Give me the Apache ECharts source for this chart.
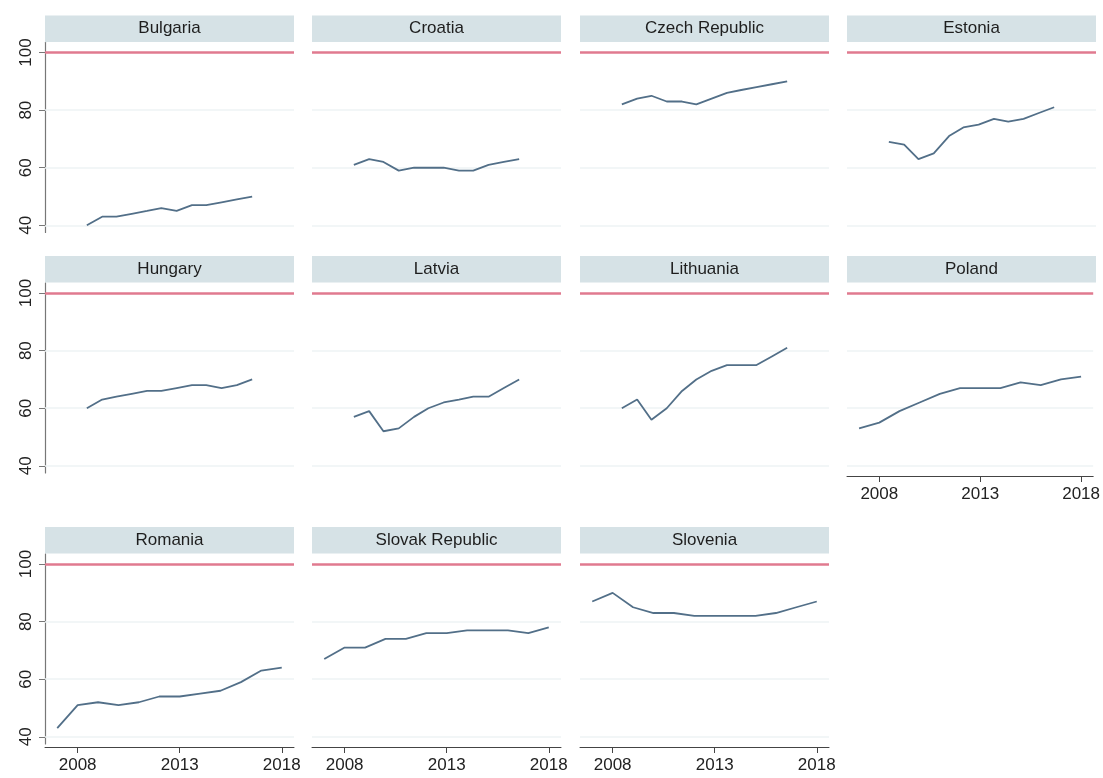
<!DOCTYPE html>
<html>
<head>
<meta charset="utf-8">
<script src="https://cdn.jsdelivr.net/npm/echarts@6/dist/echarts.min.js"></script>
<style>html,body{margin:0;padding:0;background:#fff}#c{width:1103px;height:778px}</style>
</head>
<body>
<div id="c"></div>
<script>
// ---- data ----
const yearsShort = [2008.45, 2009.2, 2009.9, 2010.65, 2011.4, 2012.1, 2012.85, 2013.6, 2014.3, 2015.05, 2015.8, 2016.55];
const yearsFull = [2007, 2008, 2009, 2010, 2011, 2012, 2013, 2014, 2015, 2016, 2017, 2018];
const xTickLabels = [2008, 2013, 2018];
const yTickLabels = [40, 60, 80, 100];
const referenceLevel = 100;

const bulgaria = [40, 43, 43, 44, 45, 46, 45, 47, 47, 48, 49, 50];
const croatia = [61, 63, 62, 59, 60, 60, 60, 59, 59, 61, 62, 63];
const czechRepublic = [82, 84, 85, 83, 83, 82, 84, 86, 87, 88, 89, 90];
const estonia = [69, 68, 63, 65, 71, 74, 75, 77, 76, 77, 79, 81];
const hungary = [60, 63, 64, 65, 66, 66, 67, 68, 68, 67, 68, 70];
const latvia = [57, 59, 52, 53, 57, 60, 62, 63, 64, 64, 67, 70];
const lithuania = [60, 63, 56, 60, 66, 70, 73, 75, 75, 75, 78, 81];
const poland = [53, 55, 59, 62, 65, 67, 67, 67, 69, 68, 70, 71];
const romania = [43, 51, 52, 51, 52, 54, 54, 55, 56, 59, 63, 64];
const slovakRepublic = [67, 71, 71, 74, 74, 76, 76, 77, 77, 77, 76, 78];
const slovenia = [87, 90, 85, 83, 83, 82, 82, 82, 82, 83, 85, 87];

const panels = [
  {name: 'Bulgaria', x: yearsShort, v: bulgaria, row: 0, col: 0, showX: false},
  {name: 'Croatia', x: yearsShort, v: croatia, row: 0, col: 1, showX: false},
  {name: 'Czech Republic', x: yearsShort, v: czechRepublic, row: 0, col: 2, showX: false},
  {name: 'Estonia', x: yearsShort, v: estonia, row: 0, col: 3, showX: false},
  {name: 'Hungary', x: yearsShort, v: hungary, row: 1, col: 0, showX: false},
  {name: 'Latvia', x: yearsShort, v: latvia, row: 1, col: 1, showX: false},
  {name: 'Lithuania', x: yearsShort, v: lithuania, row: 1, col: 2, showX: false},
  {name: 'Poland', x: yearsFull, v: poland, row: 1, col: 3, showX: true},
  {name: 'Romania', x: yearsFull, v: romania, row: 2, col: 0, showX: true},
  {name: 'Slovak Republic', x: yearsFull, v: slovakRepublic, row: 2, col: 1, showX: true},
  {name: 'Slovenia', x: yearsFull, v: slovenia, row: 2, col: 2, showX: true}
];

// ---- layout ----
const colLeft = [45, 312, 580, 847];
const rowTop = [42.5, 283, 554];
const W = 249, H = 190;
const HEAD_H = 26.5;
const FONT = '"Liberation Sans", Arial, Helvetica, sans-serif';

const grid = [], xAxis = [], yAxis = [], series = [], graphic = [];
panels.forEach((p, i) => {
  const left = colLeft[p.col], top = rowTop[p.row];
  grid.push({left: left, top: top, width: W, height: H, containLabel: false});
  xAxis.push({
    type: 'value', gridIndex: i, min: 2006.4, max: 2018.6,
    show: p.showX, offset: 3,
    splitLine: {show: false},
    axisLine: {show: true, lineStyle: {color: '#444', width: 1}},
    axisTick: {show: true, length: 6, lineStyle: {color: '#444'}, customValues: xTickLabels},
    axisLabel: {show: true, customValues: xTickLabels, color: '#222', fontSize: 17, fontFamily: FONT, margin: 10,
      formatter: v => String(v)}
  });
  yAxis.push({
    type: 'value', gridIndex: i, min: 37.5, max: 103.5,
    show: p.col === 0,
    splitLine: {show: false},
    axisLine: {show: true, lineStyle: {color: '#777', width: 1.2}},
    axisTick: {show: true, length: 6, lineStyle: {color: '#777'}, customValues: yTickLabels},
    axisLabel: {show: true, customValues: yTickLabels, rotate: 90, color: '#222', fontSize: 17, fontFamily: FONT, margin: 10,
      formatter: v => String(v)}
  });
  series.push({
    type: 'line', xAxisIndex: i, yAxisIndex: i, z: 1,
    data: [], silent: true,
    markLine: {
      silent: true, symbol: 'none', animation: false, z: 1,
      label: {show: false},
      data: yTickLabels.filter(t => t !== referenceLevel).map(t => ({yAxis: t, lineStyle: {color: '#eef3f5', width: 1.5, type: 'solid'}}))
        .concat([{yAxis: referenceLevel, lineStyle: {color: '#e07a8f', width: 2.6, type: 'solid'}}])
    }
  });
  series.push({
    type: 'line', xAxisIndex: i, yAxisIndex: i, z: 10,
    data: p.x.map((x, k) => [x, p.v[k]]),
    symbol: 'none', silent: true,
    lineStyle: {color: '#526f88', width: 1.8},
    name: p.name
  });
  graphic.push({
    type: 'rect', silent: true,
    shape: {x: left, y: top - HEAD_H - 0.5, width: W, height: HEAD_H},
    style: {fill: '#d6e2e6'}
  });
  graphic.push({
    type: 'text', silent: true,
    x: left + W / 2, y: top - HEAD_H / 2 - 0.5,
    style: {text: p.name, fill: '#1e1e1e', fontSize: 17, fontFamily: FONT, align: 'center', verticalAlign: 'middle'}
  });
});

const chart = echarts.init(document.getElementById('c'), null, {renderer: 'canvas'});
chart.setOption({
  animation: false,
  backgroundColor: '#ffffff',
  grid: grid, xAxis: xAxis, yAxis: yAxis, series: series, graphic: graphic
});
</script>
</body>
</html>
